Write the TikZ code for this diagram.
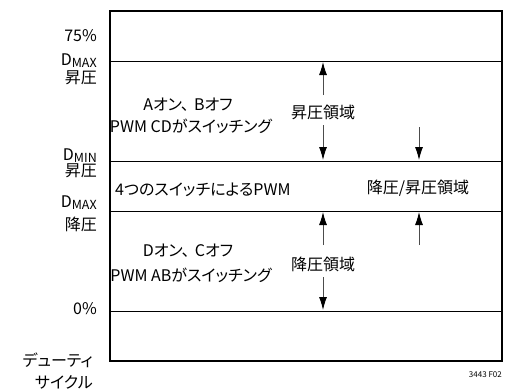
\documentclass[tikz,border=0pt]{standalone}
\usepackage{fontspec}
\setmainfont{Noto Sans CJK JP}[RawFeature=+palt]
\usetikzlibrary{arrows.meta}
\newcommand\dsub[1]{D\raisebox{-2.4pt}{\fontsize{12.5}{12.5}\selectfont #1}}
\begin{document}
\begin{tikzpicture}[x=1pt,y=-1pt,
  lbl/.style={inner sep=0pt, font=\fontsize{16}{16}\selectfont},
  lft/.style={lbl, anchor=east},
  frame/.style={draw=black, line width=1.3pt},
  band/.style={draw=black, line width=0.9pt},
  arr/.style={draw=black!70, line width=0.9pt, -{Latex[length=13pt,width=8pt,color=black]}}]
\useasboundingbox (0,0) rectangle (506,391);
% bands
\coordinate (bl61) at (110,61);
\coordinate (br61) at (502,61);
\coordinate (bl161) at (110,161);
\coordinate (br161) at (502,161);
\coordinate (bl211) at (110,211);
\coordinate (br211) at (502,211);
\coordinate (bl311) at (110,311);
\coordinate (br311) at (502,311);
\draw[band] (bl61) -- (br61);
\draw[band] (bl161) -- (br161);
\draw[band] (bl211) -- (br211);
\draw[band] (bl311) -- (br311);
\draw[frame] (110,11) rectangle (502,361);
% left labels
\node[lft] (p75) at (97,36) {75\%};
\node[lbl, anchor=base east] (dmax1) at (97,65) {\dsub{MAX}};
\node[lft] (sh1) at (97,78) {昇圧};
\node[lbl, anchor=base east] (dmin) at (97,160) {\dsub{MIN}};
\node[lft] (sh2) at (97,171) {昇圧};
\node[lbl, anchor=base east] (dmax2) at (97,207) {\dsub{MAX}};
\node[lft] (ko1) at (97,224) {降圧};
\node[lft] (p0) at (97,309) {0\%};
\node[lft] (duty1) at (93,360) {デューティ};
\node[lft] (duty2) at (93,382) {サイクル};
% box texts
\node[lbl] (aon) at (188,105) {Aオン、\hspace{5pt}Bオフ};
\node[lbl] (pwmcd) at (191,126) {PWM CDがスイッチング};
\node[lbl, anchor=west] (four) at (115,190) {4つのスイッチによるPWM};
\node[lbl] (buckboost) at (418,188) {降圧/昇圧領域};
\node[lbl] (boost) at (323,112) {昇圧領域};
\node[lbl] (don) at (188,251) {Dオン、\hspace{5pt}Cオフ};
\node[lbl] (pwmab) at (191,275) {PWM ABがスイッチング};
\node[lbl] (buck) at (323,264) {降圧領域};
\node[inner sep=0pt, anchor=east, font=\fontsize{8}{8}\selectfont] (fig) at (502,375) {3443 F02};
% arrows
\coordinate (a1s) at (323,95);  \coordinate (a1e) at (323,62);
\coordinate (a2s) at (323,125); \coordinate (a2e) at (323,160);
\coordinate (a3s) at (419,127); \coordinate (a3e) at (419,160);
\coordinate (a4s) at (323,245); \coordinate (a4e) at (323,212);
\coordinate (a5s) at (419,245); \coordinate (a5e) at (419,212);
\coordinate (a6s) at (323,277); \coordinate (a6e) at (323,310);
\draw[arr] (a1s) -- (a1e);
\draw[arr] (a2s) -- (a2e);
\draw[arr] (a3s) -- (a3e);
\draw[arr] (a4s) -- (a4e);
\draw[arr] (a5s) -- (a5e);
\draw[arr] (a6s) -- (a6e);
\end{tikzpicture}
\end{document}
